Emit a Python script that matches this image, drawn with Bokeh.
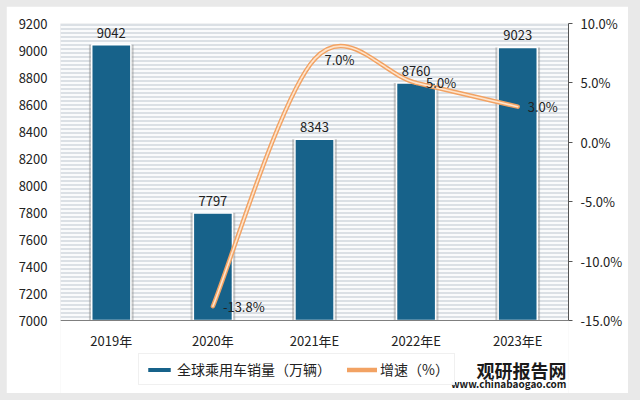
from bokeh.plotting import figure
from bokeh.models import (Range1d, LinearAxis, FixedTicker, PrintfTickFormatter,
                          BoxAnnotation, Legend, LegendItem, Label, ColumnDataSource, Span)
from bokeh.layouts import column
from bokeh.core.properties import value
from bokeh.embed import file_html
from bokeh.resources import INLINE

# ---------------- data ----------------
categories = ["2019年", "2020年", "2021年E", "2022年E", "2023年E"]
sales = [9042, 7797, 8343, 8760, 9023]          # 全球乘用车销量（万辆）
growth_years = ["2020年", "2021年E", "2022年E", "2023年E"]
growth = [-13.8, 7.0, 5.0, 3.0]                  # 增速（%）
left_ticks = [7000, 7200, 7400, 7600, 7800, 8000, 8200, 8400, 8600, 8800, 9000, 9200]
right_ticks = [-15, -10, -5, 0, 5, 10]
legend_labels = ["全球乘用车销量（万辆）", "增速（%）"]

FONT = "Noto Sans CJK SC"
BAR = "#17628a"
TXT = "#222222"
LINE_OUT = "#f2a263"
LINE_IN = "#fde4cc"

xs = list(range(len(categories)))
gx = [categories.index(c) for c in growth_years]

# the frame reaches down into the legend strip; the value axes only cover the upper part
PLOT_H, STRIP_H = 297, 73
ext = STRIP_H / PLOT_H
l0, l1 = left_ticks[0], left_ticks[-1]
r0, r1 = right_ticks[0], right_ticks[-1]

p = figure(width=622, height=387, output_backend="svg", toolbar_location=None,
           x_range=Range1d(-0.5, len(categories) - 0.5),
           y_range=Range1d(l0 - (l1 - l0) * ext, l1),
           min_border_left=54, min_border_right=60, min_border_top=17, min_border_bottom=0)
p.extra_y_ranges = {"pct": Range1d(r0 - (r1 - r0) * ext, r1)}
p.border_fill_color = "white"
p.background_fill_color = "white"
p.outline_line_color = None
p.xgrid.visible = False
p.ygrid.visible = False
p.xaxis.visible = False

# striped plot area
p.add_layout(BoxAnnotation(bottom=l0, fill_color="#f3f5f8", hatch_pattern="horizontal_line",
                           hatch_color="#cfd4db", hatch_scale=4, hatch_weight=1.4,
                           line_color="#c3c8ce", line_width=1, level="underlay"))
p.add_layout(Span(location=l0, dimension="width", line_color="#7f7f7f", line_width=1))

# left axis
ya = p.yaxis[0]
ya.bounds = (l0, l1)
ya.ticker = FixedTicker(ticks=left_ticks)
ya.axis_line_color = None
ya.major_tick_in = 0
ya.major_tick_out = 0
ya.minor_tick_line_color = None
ya.major_label_standoff = 13
ya.major_label_text_font = FONT
ya.major_label_text_font_size = "13px"
ya.major_label_text_color = TXT

# right axis
ra = LinearAxis(y_range_name="pct", bounds=(r0, r1), ticker=FixedTicker(ticks=right_ticks),
                formatter=PrintfTickFormatter(format="%.1f%%"))
ra.axis_line_color = "#555555"
ra.major_tick_line_color = "#555555"
ra.major_tick_in = 0
ra.major_tick_out = 4
ra.minor_tick_line_color = None
ra.major_label_standoff = 8
ra.major_label_text_font = FONT
ra.major_label_text_font_size = "13px"
ra.major_label_text_color = TXT
p.add_layout(ra, "right")

# category labels under the base line
csrc_lab = ColumnDataSource(dict(x=xs, y=[l0] * len(xs), t=categories))
p.text(x="x", y="y", text="t", source=csrc_lab, y_offset=20,
       text_align="center", text_baseline="middle", text_font=value(FONT),
       text_font_size="13px", text_color=TXT)

# bars (with soft shadow)
bsrc = ColumnDataSource(dict(x=xs, top=sales, lab=[str(v) for v in sales]))
p.vbar(x="x", top="top", bottom=l0, width=0.44, source=bsrc,
       fill_color="#8c8c8c", fill_alpha=0.45, line_color=None)
bars = p.vbar(x="x", top="top", bottom=l0, width=0.385, source=bsrc,
              fill_color=BAR, line_color="white", line_width=1.5)
p.text(x="x", y="top", text="lab", source=bsrc, y_offset=-7,
       text_align="center", text_baseline="bottom", text_font=value(FONT),
       text_font_size="13px", text_color=TXT)

# smooth growth curve (Catmull-Rom bezier segments through the data points)
n = len(gx)
seg = dict(x0=[], y0=[], x1=[], y1=[], cx0=[], cy0=[], cx1=[], cy1=[])
for i in range(n - 1):
    p0 = (gx[i - 1], growth[i - 1]) if i > 0 else (gx[i], growth[i])
    p1 = (gx[i], growth[i])
    p2 = (gx[i + 1], growth[i + 1])
    p3 = (gx[i + 2], growth[i + 2]) if i + 2 < n else p2
    seg["x0"].append(p1[0]); seg["y0"].append(p1[1])
    seg["x1"].append(p2[0]); seg["y1"].append(p2[1])
    seg["cx0"].append(p1[0] + (p2[0] - p0[0]) / 6); seg["cy0"].append(p1[1] + (p2[1] - p0[1]) / 6)
    seg["cx1"].append(p2[0] - (p3[0] - p1[0]) / 6); seg["cy1"].append(p2[1] - (p3[1] - p1[1]) / 6)
csrc = ColumnDataSource(seg)
curve = p.bezier(x0="x0", y0="y0", x1="x1", y1="y1", cx0="cx0", cy0="cy0", cx1="cx1", cy1="cy1",
                 source=csrc, y_range_name="pct", line_color=LINE_OUT, line_width=4.5,
                 line_cap="round")
p.bezier(x0="x0", y0="y0", x1="x1", y1="y1", cx0="cx0", cy0="cy0", cx1="cx1", cy1="cy1",
         source=csrc, y_range_name="pct", line_color=LINE_IN, line_width=1.6, line_cap="round")

gsrc = ColumnDataSource(dict(x=gx, y=growth, lab=[f"{g:.1f}%" for g in growth]))
p.text(x="x", y="y", text="lab", source=gsrc, y_range_name="pct", x_offset=10,
       text_align="left", text_baseline="middle", text_font=value(FONT),
       text_font_size="13px", text_color=TXT)

# legend (inside the lower strip of the frame; location = bottom-left corner)
legend = Legend(items=[LegendItem(label=legend_labels[0], renderers=[bars]),
                       LegendItem(label=legend_labels[1], renderers=[curve])],
                orientation="horizontal", location=(78, 8),
                label_text_font=FONT, label_text_font_size="14px", label_text_color=TXT,
                glyph_width=30, glyph_height=7, spacing=16, label_standoff=3,
                padding=5, margin=0,
                border_line_color="#e2e2e2", background_fill_color="white")
p.add_layout(legend, "center")

# watermark (kept inside the frame so it is not clipped)
p.add_layout(Label(x=506, y=24, x_units="screen", y_units="screen", text="观研报告网",
                   text_font=FONT, text_font_size="18px", text_font_style="bold",
                   text_color="#1a1a1a", text_align="right", text_baseline="middle"))
p.add_layout(Label(x=506, y=10, x_units="screen", y_units="screen", text="www.chinabaogao.com",
                   text_font=FONT, text_font_size="10px", text_font_style="bold",
                   text_color="#1a1a1a", text_align="right", text_baseline="middle"))

layout = column(p, styles={"background-color": "#e9e9e9", "padding": "6px 12px 7px 6px"})
open("out.html", "w").write(file_html(layout, INLINE))
